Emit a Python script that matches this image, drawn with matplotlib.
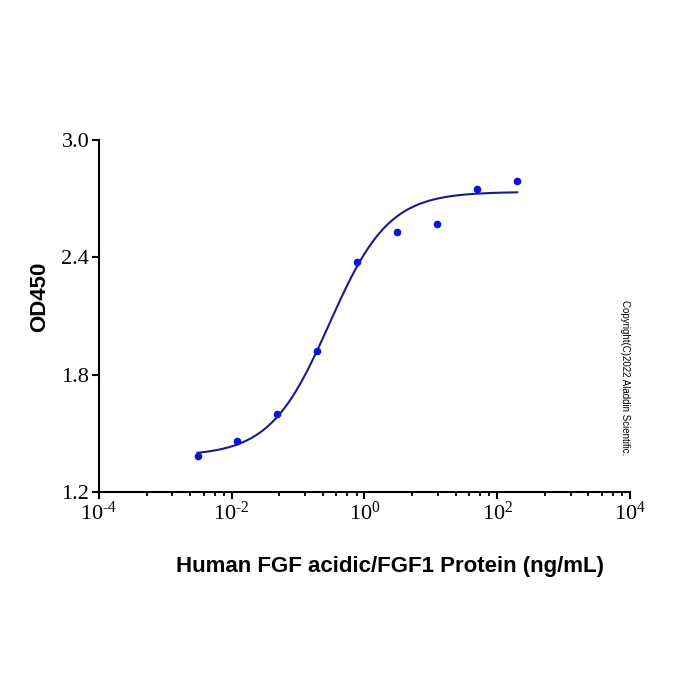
import numpy as np
import matplotlib
matplotlib.use("Agg")
import matplotlib.pyplot as plt
from matplotlib.ticker import FixedLocator, NullFormatter

plt.rcParams['mathtext.fontset'] = 'custom'
plt.rcParams['mathtext.rm'] = 'Liberation Serif'
plt.rcParams['mathtext.it'] = 'Liberation Serif:italic'

# Data (ng/mL, OD450)
conc = [0.00305, 0.0122, 0.0488, 0.195, 0.781, 3.125, 12.5, 50.0, 200.0]
od450 = [1.384, 1.461, 1.599, 1.921, 2.378, 2.528, 2.570, 2.748, 2.792]

# 4PL fit parameters
fit_bottom = 1.385
fit_top = 2.735
fit_log_ec50 = -0.53
fit_hill = 0.97

x_ticks = [1e-4, 1e-2, 1e0, 1e2, 1e4]
x_ticklabels = ['10$^{\u20104}$', '10$^{\u20102}$', '10$^{0}$', '10$^{2}$', '10$^{4}$']
y_ticks = [1.2, 1.8, 2.4, 3.0]
y_ticklabels = ['1.2', '1.8', '2.4', '3.0']

lx = np.log10(np.array(conc))
xf = np.logspace(lx.min(), lx.max(), 300)
yf = fit_bottom + (fit_top - fit_bottom) / (1.0 + 10 ** ((fit_log_ec50 - np.log10(xf)) * fit_hill))

fig = plt.figure(figsize=(7, 7), dpi=100)
ax = fig.add_axes([0.1414, 0.297, 0.7586, 0.503])
ax.plot(xf, yf, color='#1a1a8c', lw=1.5, zorder=2)
ax.plot(conc, od450, 'o', color='#0a14d2', ms=5.5, mec='none', zorder=3)

ax.set_xscale('log')
ax.set_xlim(1e-4, 1e4)
ax.set_ylim(1.2, 3.0)
ax.xaxis.set_major_locator(FixedLocator(x_ticks))
ax.set_xticklabels(x_ticklabels)
minor = []
for d in [-4, -2, 0, 2]:
    for k in range(1, 7):
        minor.append(10 ** (d + 2 * np.log10(1 + 9 * k / 7)))
ax.xaxis.set_minor_locator(FixedLocator(minor))
ax.xaxis.set_minor_formatter(NullFormatter())
ax.set_yticks(y_ticks)
ax.set_yticklabels(y_ticklabels)
ax.yaxis.set_minor_locator(FixedLocator([]))

for sp in ['top', 'right']:
    ax.spines[sp].set_visible(False)
for sp in ['left', 'bottom']:
    ax.spines[sp].set_linewidth(1.5)
ax.tick_params(axis='both', which='major', direction='out', length=5, width=1.5,
               labelsize=16, pad=2)
ax.tick_params(axis='x', which='minor', direction='out', length=3, width=1.3)
for lab in ax.get_xticklabels() + ax.get_yticklabels():
    lab.set_fontfamily('Liberation Serif')

fig.text(0.557, 0.191, 'Human FGF acidic/FGF1 Protein (ng/mL)', ha='center', va='center',
         fontsize=16, fontweight='bold', family='Liberation Sans')
fig.text(0.056, 0.576, 'OD450', ha='center', va='center', rotation=90,
         fontsize=16, fontweight='bold', family='Liberation Sans')
fig.text(0.893, 0.46, 'Copyright(C)2022 Aladdin Scientific.', ha='center', va='center',
         rotation=-90, fontsize=7, family='Liberation Sans')

fig.savefig('out.png', dpi=100, facecolor='white')
